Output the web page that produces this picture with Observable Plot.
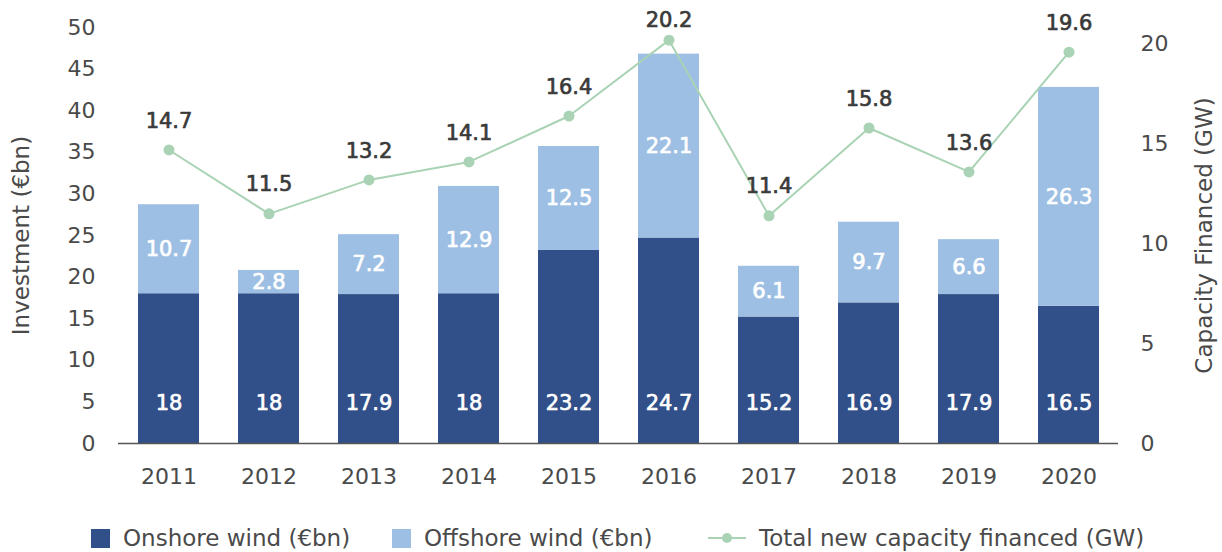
<!DOCTYPE html>
<html>
<head>
<meta charset="utf-8">
<script src="https://cdn.jsdelivr.net/npm/d3@7"></script>
<script src="https://cdn.jsdelivr.net/npm/@observablehq/plot@0.6"></script>
<style>
  html, body { margin: 0; padding: 0; background: #fff; }
  #wrap { position: relative; width: 1222px; height: 552px; font-family: "DejaVu Sans", sans-serif; }
  #legend { position: absolute; left: 0; top: 527px; width: 1222px; height: 24px; font-size: 23px; color: #4a4a4a; }
  #legend .item { position: absolute; top: 0; display: flex; align-items: center; height: 22px; }
  #legend .sw { width: 19px; height: 19px; margin-right: 13px; }
  #legend .ln { position: relative; width: 38px; height: 2px; margin-right: 13px; margin-left: 1px; }
  #legend .ln::after { content: ""; position: absolute; left: 14px; top: -4px; width: 10px; height: 10px; border-radius: 50%; background: inherit; }
</style>
</head>
<body>
<div id="wrap">
  <div id="chart"></div>
  <div id="legend"></div>
</div>
<script>
const years = ["2011","2012","2013","2014","2015","2016","2017","2018","2019","2020"];
const onshore = [18, 18, 17.9, 18, 23.2, 24.7, 15.2, 16.9, 17.9, 16.5];
const offshore = [10.7, 2.8, 7.2, 12.9, 12.5, 22.1, 6.1, 9.7, 6.6, 26.3];
const capacity = [14.7, 11.5, 13.2, 14.1, 16.4, 20.2, 11.4, 15.8, 13.6, 19.6];
const leftTicks = [0, 5, 10, 15, 20, 25, 30, 35, 40, 45, 50];
const rightTicks = [0, 5, 10, 15, 20];
const seriesNames = ["Onshore wind (€bn)", "Offshore wind (€bn)", "Total new capacity financed (GW)"];
const colors = ["#314f89", "#9ebfe4", "#a9d3b4"];

const K = 2.4; // right axis (GW) -> left axis (€bn) scale factor

const rows = years.flatMap((y, i) => [
  {year: y, type: seriesNames[0], value: onshore[i]},
  {year: y, type: seriesNames[1], value: offshore[i]}
]);
const table = years.map((y, i) => ({year: y, on: onshore[i], off: offshore[i], cap: capacity[i]}));

const font = "DejaVu Sans, sans-serif";
const medium = (fill) => ({fill, stroke: fill, strokeWidth: 0.7, fontSize: 21, fontWeight: "normal"});

const chart = Plot.plot({
  width: 1222,
  height: 500,
  marginLeft: 118,
  marginRight: 104,
  marginTop: 27,
  marginBottom: 57,
  style: {fontFamily: font, fontSize: "22px", color: "#4a4a4a", background: "white"},
  x: {domain: years, paddingInner: 0.39, paddingOuter: 0.195},
  y: {domain: [0, 50]},
  color: {domain: seriesNames.slice(0, 2), range: colors.slice(0, 2)},
  marks: [
    Plot.barY(rows, {x: "year", y: "value", fill: "type", order: seriesNames.slice(0, 2)}),
    Plot.ruleY([0], {stroke: "#555", strokeWidth: 1.5}),
    Plot.axisY({anchor: "left", ticks: leftTicks, tickSize: 0, tickPadding: 23, fontSize: 22,
      label: "Investment (€bn)", labelAnchor: "center", labelArrow: "none", labelOffset: 106}),
    Plot.axisY({anchor: "right", ticks: rightTicks.map(d => d * K), tickFormat: d => d3.format("d")(Math.round(d / K)),
      tickSize: 0, tickPadding: 22, fontSize: 22,
      label: "Capacity Financed (GW)", labelAnchor: "center", labelArrow: "none", labelOffset: 93}),
    Plot.axisX({tickSize: 0, tickPadding: 25, fontSize: 22, label: null}),
    Plot.text(table, {x: "year", y: 4.8, text: d => String(d.on), ...medium("white")}),
    Plot.text(table, {x: "year", y: d => d.on + d.off / 2, text: d => String(d.off), ...medium("white")}),
    Plot.line(table, {x: "year", y: d => d.cap * K, stroke: colors[2], strokeWidth: 2}),
    Plot.dot(table, {x: "year", y: d => d.cap * K, r: 5.5, fill: colors[2]}),
    Plot.text(table, {x: "year", y: d => Math.min(d.cap * K + 3.5, 50.9), text: d => String(d.cap), ...medium("#3a3a3a")})
  ]
});
chart.querySelectorAll("[aria-label='y-axis label'] text").forEach(t => t.setAttribute("font-size", "23"));
document.getElementById("chart").appendChild(chart);

const legend = document.getElementById("legend");
const lefts = [91, 392, 707];
seriesNames.forEach((name, i) => {
  const item = document.createElement("div");
  item.className = "item";
  item.style.left = lefts[i] + "px";
  const sym = document.createElement("span");
  sym.className = i < 2 ? "sw" : "ln";
  sym.style.background = colors[i];
  item.appendChild(sym);
  const t = document.createElement("span");
  t.textContent = name;
  item.appendChild(t);
  legend.appendChild(item);
});
</script>
</body>
</html>
